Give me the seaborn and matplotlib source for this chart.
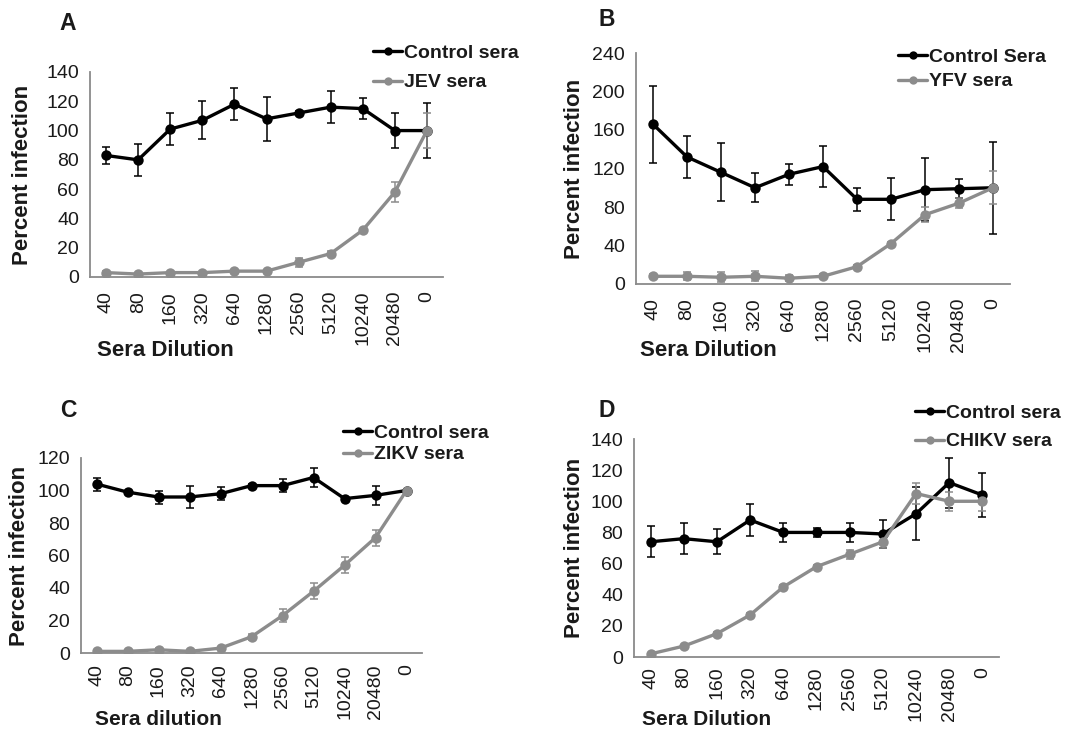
import numpy as np
import pandas as pd
import matplotlib
matplotlib.use("Agg")
import matplotlib.pyplot as plt
import seaborn as sns

sns.set_theme(style="white")
plt.rcParams['font.family'] = ['Liberation Sans', 'DejaVu Sans']

dilutions = ["40", "80", "160", "320", "640", "1280", "2560", "5120", "10240", "20480", "0"]

# Panel A
a_control = [83, 80, 101, 107, 118, 108, 112, 116, 115, 100, 100]
a_control_err = [5.5, 11, 11, 13, 11, 15, 1.5, 11, 7, 12, 19]
a_test = [3, 2, 3, 3, 4, 4, 10, 16, 32, 58, 100]
a_test_err = [1, 0.5, 0.5, 0.5, 0.5, 0.5, 3, 1.5, 1, 7, 12]

# Panel B
b_control = [166, 132, 116, 100, 114, 122, 88, 88, 98, 99, 100]
b_control_err = [40, 22, 30, 15, 11, 21, 12, 22, 33, 10, 48]
b_test = [8, 8, 7, 8, 6, 8, 18, 42, 72, 84, 100]
b_test_err = [2, 4, 5, 5, 3, 2, 2, 2, 8, 5, 17]

# Panel C
c_control = [104, 99, 96, 96, 98, 103, 103, 108, 95, 97, 100]
c_control_err = [4, 1, 4, 7, 4, 1, 4, 6, 1, 6, 1]
c_test = [1, 1, 2, 1, 3, 10, 23, 38, 54, 71, 100]
c_test_err = [0.5, 0.5, 1, 0.5, 1, 2, 4, 5, 5, 5, 1]

# Panel D
d_control = [74, 76, 74, 88, 80, 80, 80, 79, 92, 112, 104]
d_control_err = [10, 10, 8, 10, 6, 3, 6, 9, 17, 16, 14]
d_test = [2, 7, 15, 27, 45, 58, 66, 74, 105, 100, 100]
d_test_err = [0.5, 0.5, 1, 1, 1, 1, 3, 4, 7, 6, 6]

W, H = 1073, 733
panels = [
    dict(letter="A", ctrl="Control sera", test="JEV sera", c=a_control, ce=a_control_err,
         t=a_test, te=a_test_err, ymax=140, step=20, xlabel="Sera Dilution",
         box=(90, 72, 443, 277), leg=(373, 53, 30), letter_xy=(68, 23),
         xlab=(97, 340), xlab_fs=16, ylab_x=23, tpad=10),
    dict(letter="B", ctrl="Control Sera", test="YFV sera", c=b_control, ce=b_control_err,
         t=b_test, te=b_test_err, ymax=240, step=40, xlabel="Sera Dilution",
         box=(636, 53, 1010, 284), leg=(898, 57, 25), letter_xy=(607, 20),
         xlab=(640, 340), xlab_fs=16, ylab_x=575, tpad=10),
    dict(letter="C", ctrl="Control sera", test="ZIKV sera", c=c_control, ce=c_control_err,
         t=c_test, te=c_test_err, ymax=120, step=20, xlabel="Sera dilution",
         box=(81, 458, 422, 653), leg=(343, 433, 22), letter_xy=(68, 410),
         xlab=(95, 710), xlab_fs=15, ylab_x=20, tpad=8),
    dict(letter="D", ctrl="Control sera", test="CHIKV sera", c=d_control, ce=d_control_err,
         t=d_test, te=d_test_err, ymax=140, step=20, xlabel="Sera Dilution",
         box=(634, 439, 999, 657), leg=(915, 413, 29), letter_xy=(607, 410),
         xlab=(642, 710), xlab_fs=15, ylab_x=574, tpad=7),
]

fig = plt.figure(figsize=(W / 100, H / 100), dpi=100)
grey = "#8c8c8c"
spine_col = "#8a8a8a"
txt = "#1a1a1a"
FS = 14
FPX = FS * 100 / 72.0

for p in panels:
    l, t, r, b = p["box"]
    ax = fig.add_axes([l / W, 1 - b / H, (r - l) / W, (b - t) / H])
    x = np.arange(len(dilutions))
    df = pd.DataFrame({
        "pos": np.concatenate([x, x]),
        "value": p["c"] + p["t"],
        "series": [p["ctrl"]] * len(x) + [p["test"]] * len(x),
    })
    ax.errorbar(x, p["c"], yerr=p["ce"], fmt="none", ecolor="black", elinewidth=1.1,
                capsize=3, capthick=1.1, zorder=2)
    ax.errorbar(x, p["t"], yerr=p["te"], fmt="none", ecolor=grey, elinewidth=1.1,
                capsize=3, capthick=1.1, zorder=2)
    sns.lineplot(data=df, x="pos", y="value", hue="series",
                 palette={p["ctrl"]: "black", p["test"]: grey},
                 marker="o", markersize=7.5, markeredgewidth=0, linewidth=2.4,
                 ax=ax, zorder=3, legend=True)
    ax.set_xlim(-0.5, len(x) - 0.5)
    ax.set_ylim(0, p["ymax"])
    ax.set_yticks(np.arange(0, p["ymax"] + 1, p["step"]))
    ax.set_xticks(x)
    ax.set_xticklabels(dilutions, rotation=90)
    ax.set_xticks(np.arange(-0.5, len(x), 1.0), minor=True)
    ax.tick_params(axis="x", which="major", length=0, pad=p["tpad"], labelsize=FS, labelcolor=txt)
    ax.tick_params(axis="x", which="minor", length=5, width=1.2, color=spine_col, direction="out")
    ax.tick_params(axis="y", which="major", length=5, width=1.2, color=spine_col,
                   direction="out", labelsize=FS, labelcolor=txt, pad=3)
    for s in ["top", "right"]:
        ax.spines[s].set_visible(False)
    for s in ["left", "bottom"]:
        ax.spines[s].set_color(spine_col)
        ax.spines[s].set_linewidth(1.3)
    ax.set_ylabel("Percent infection", fontsize=16, fontweight="bold", color=txt)
    ax.yaxis.set_label_coords(p["ylab_x"] / W, 1 - ((t + b) / 2) / H, transform=fig.transFigure)
    ax.yaxis.label.set_verticalalignment("center")
    ax.set_xlabel(p["xlabel"], fontsize=p["xlab_fs"], fontweight="bold", color=txt)
    xl, xt = p["xlab"]
    ax.xaxis.set_label_coords(xl / W, 1 - xt / H, transform=fig.transFigure)
    ax.xaxis.label.set_horizontalalignment("left")
    ax.xaxis.label.set_verticalalignment("top")
    ax.grid(False)
    handles, labels = ax.get_legend_handles_labels()
    lx, ly, gap = p["leg"]
    h_row = 17.9
    leg = ax.legend(handles, labels, loc="upper left",
                    bbox_to_anchor=(lx / W, 1 - (ly - h_row / 2) / H), bbox_transform=fig.transFigure,
                    frameon=False, fontsize=FS, handlelength=1.5, handletextpad=0.1,
                    borderpad=0, borderaxespad=0, labelspacing=max(gap - h_row, 0) / FPX)
    for tx in leg.get_texts():
        tx.set_fontweight("bold")
        tx.set_color(txt)
    for ln in leg.get_lines():
        ln.set_markersize(6)
    lxp, lyp = p["letter_xy"]
    fig.text(lxp / W, 1 - lyp / H, p["letter"], fontsize=16.5, fontweight="bold",
             color=txt, ha="center", va="center")

fig.savefig("out.png", dpi=100)
